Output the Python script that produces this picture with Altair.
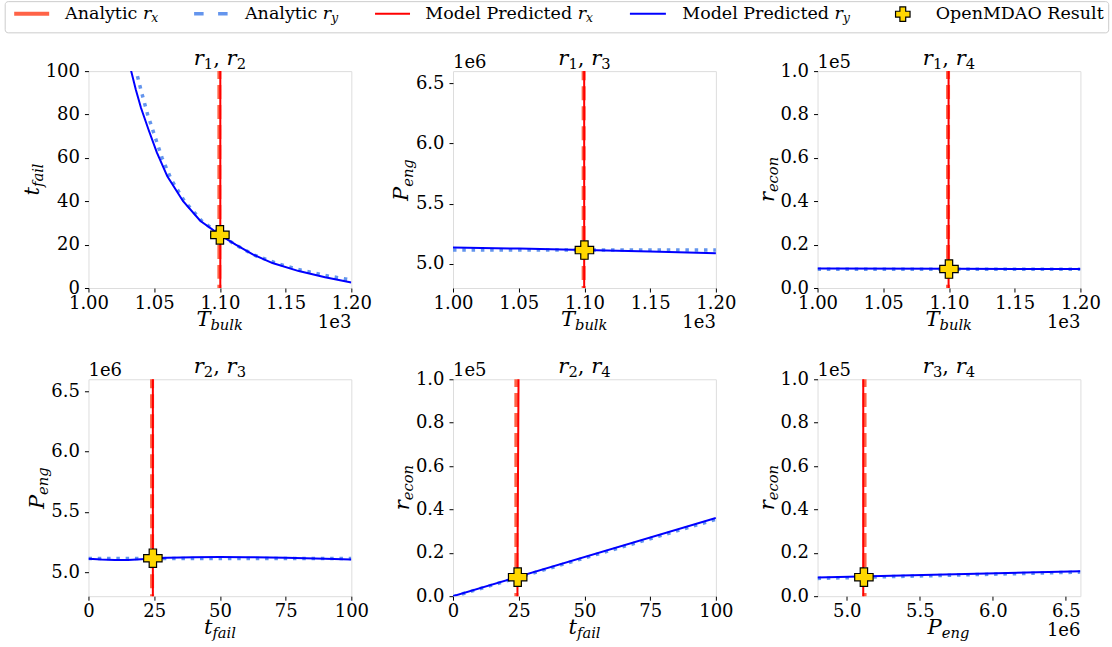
import altair as alt
import pandas as pd

FONT = "DejaVu Serif"
TICK_FS = 18
LEG_FS = 17.5
LABEL_FS = 21
TITLE_FS = 21
W, H = 263, 217

C_ANA_RX = "#FF6347"
C_MOD_RX = "#FF0000"
C_ANA_RY = "#6495ED"
C_MOD_RY = "#0000FF"
C_RES = "#FFD700"

# ---------------- data ----------------
res_T_bulk = 1100.0
res_t_fail = 24.5
res_P_eng = 5.115e6
res_r_econ = 8760.0

# r1, r2 : x = T_bulk, y = t_fail
p12_ana_rx_x = [1099.6, 1099.6]
p12_ana_rx_y = [-5, 105]
p12_mod_rx_x = [1100.3, 1100.3]
p12_mod_rx_y = [-5, 105]
p12_ana_ry_x = [1034.0, 1036.3, 1040.5, 1045, 1050.5, 1056, 1063, 1073, 1086, 1099.5, 1111, 1126, 1144, 1162, 1180, 1200]
p12_ana_ry_y = [106, 100, 90, 80, 70, 60, 50, 40, 31, 25, 20.2, 15.2, 11.2, 8.2, 5.8, 3.7]
p12_mod_ry_x = [1031.0, 1032.5, 1036, 1040, 1046, 1052, 1060, 1072, 1085, 1100, 1112, 1125, 1140, 1160, 1180, 1200]
p12_mod_ry_y = [106, 100, 91.5, 83, 72.5, 62.5, 51.5, 40, 31, 24.5, 20, 15.5, 11.5, 7.8, 5, 2.5]

# r1, r3 : x = T_bulk, y = P_eng
p13_ana_rx_x = [1099.4, 1099.4]
p13_ana_rx_y = [4.7e6, 6.7e6]
p13_mod_rx_x = [1099.8, 1099.8]
p13_mod_rx_y = [4.7e6, 6.7e6]
p13_ana_ry_x = [1000, 1100, 1200]
p13_ana_ry_y = [5.115e6, 5.115e6, 5.115e6]
p13_mod_ry_x = [1000, 1050, 1100, 1150, 1200]
p13_mod_ry_y = [5.136e6, 5.127e6, 5.116e6, 5.103e6, 5.088e6]

# r1, r4 : x = T_bulk, y = r_econ
p14_ana_rx_x = [1099.3, 1099.3]
p14_ana_rx_y = [-5000, 105000]
p14_mod_rx_x = [1099.7, 1099.7]
p14_mod_rx_y = [-5000, 105000]
p14_ana_ry_x = [1000, 1100, 1200]
p14_ana_ry_y = [8650, 8650, 8650]
p14_mod_ry_x = [1000, 1100, 1200]
p14_mod_ry_y = [9050, 8900, 8750]

# r2, r3 : x = t_fail, y = P_eng
p23_ana_rx_x = [24.2, 24.2]
p23_ana_rx_y = [4.7e6, 6.7e6]
p23_mod_rx_x = [24.5, 24.5]
p23_mod_rx_y = [4.7e6, 6.7e6]
p23_ana_ry_x = [0, 50, 100]
p23_ana_ry_y = [5.113e6, 5.113e6, 5.113e6]
p23_mod_ry_x = [0, 5, 10, 15, 20, 25, 30, 40, 50, 60, 75, 90, 100]
p23_mod_ry_y = [5.111e6, 5.104e6, 5.100e6, 5.101e6, 5.107e6, 5.113e6, 5.119e6, 5.124e6,
                5.125e6, 5.124e6, 5.119e6, 5.111e6, 5.104e6]

# r2, r4 : x = t_fail, y = r_econ
p24_ana_rx_x = [24.1, 24.1]
p24_ana_rx_y = [-5000, 105000]
p24_mod_rx_x = [24.5, 24.6, 24.75, 24.95]
p24_mod_rx_y = [-5000, 30000, 60000, 105000]
p24_ana_ry_x = [0, 100]
p24_ana_ry_y = [-200, 35400]
p24_mod_ry_x = [0, 100]
p24_mod_ry_y = [0, 36100]

# r3, r4 : x = P_eng, y = r_econ
p34_ana_rx_x = [5.122e6, 5.122e6]
p34_ana_rx_y = [-5000, 105000]
p34_mod_rx_x = [5.113e6, 5.113e6]
p34_mod_rx_y = [-5000, 105000]
p34_ana_ry_x = [4.8e6, 6.6e6]
p34_ana_ry_y = [8200, 11100]
p34_mod_ry_x = [4.8e6, 6.6e6]
p34_mod_ry_y = [8600, 11500]

# axis ticks
T_BULK_TICKS = [1000, 1050, 1100, 1150, 1200]
T_FAIL_Y_TICKS = [0, 20, 40, 60, 80, 100]
T_FAIL_X_TICKS = [0, 25, 50, 75, 100]
P_ENG_TICKS = [5.0e6, 5.5e6, 6.0e6, 6.5e6]
R_ECON_TICKS = [0, 20000, 40000, 60000, 80000, 100000]

LEGEND_MAIN = ["Analytic", "Analytic", "Model Predicted", "Model Predicted", "OpenMDAO Result"]
LEGEND_SUB = ["x", "y", "x", "y", ""]

# ---------------- helpers ----------------
CW = {"r": 0.48, "t": 0.40, "f": 0.35, "a": 0.60, "i": 0.32, "l": 0.32, "T": 0.64,
      "b": 0.64, "u": 0.64, "k": 0.60, "P": 0.62, "e": 0.59, "n": 0.64, "g": 0.64,
      "c": 0.56, "o": 0.60, "x": 0.56, "y": 0.56, ",": 0.32, " ": 0.32}
for d in "0123456789":
    CW[d] = 0.636
SUB = 0.7
DROP = 0.2


def wid(s, size):
    return sum(CW.get(ch, 0.6) for ch in s) * size


def txt(s, x, y, size, italic=False, align="left", angle=0, color="black"):
    props = dict(text=s, font=FONT, fontSize=size, align=align, baseline="alphabetic", color=color)
    if italic:
        props["fontStyle"] = "italic"
    if angle:
        props["angle"] = angle
    return alt.Chart(alt.Data(values=[{}])).mark_text(**props).encode(
        x=alt.value(x), y=alt.value(y))


def math_h(main, sub, cx, yb, size):
    wm = wid(main, size)
    ws = wid(sub, size * SUB)
    b = cx - (wm + ws) / 2 + wm
    return [txt(main, b, yb, size, True, "right"),
            txt(sub, b, yb + DROP * size, size * SUB, True, "left")]


def math_v(main, sub, xb, cy, size):
    wm = wid(main, size)
    ws = wid(sub, size * SUB)
    b = cy + (wm + ws) / 2 - wm
    return [txt(main, xb, b, size, True, "right", 270),
            txt(sub, xb + DROP * size, b, size * SUB, True, "left", 270)]


def title(a, b, cx, yb, size=TITLE_FS):
    runs = [("r", size, True, 0), (a, size * SUB, False, 0.2 * size), (",", size, False, 0),
            (" ", size, False, 0), ("r", size, True, 0), (b, size * SUB, False, 0.2 * size)]
    total = sum(wid(s, sz) for s, sz, _, _ in runs)
    x = cx - total / 2
    out = []
    for s, sz, it, dy in runs:
        if s.strip():
            out.append(txt(s, x, yb + dy, sz, it, "left"))
        x += wid(s, sz)
    return out


def axis(values, expr=None, pad=2):
    kw = dict(values=values, title=None, grid=False, domain=False, tickSize=4, tickWidth=1,
              tickColor="black", labelFont=FONT, labelFontSize=TICK_FS, labelColor="black",
              labelPadding=pad, labelFlush=False, labelOverlap=False, labelBound=False)
    if expr:
        kw["labelExpr"] = expr
    return alt.Axis(**kw)


def line(xs, ys, sx, sy, ax, ay, color, width, dash=None):
    df = pd.DataFrame({"x": xs, "y": ys, "o": list(range(len(xs)))})
    kw = dict(color=color, strokeWidth=width, clip=True, strokeCap="butt")
    if dash:
        kw["strokeDash"] = dash
    return alt.Chart(df).mark_line(**kw).encode(
        x=alt.X("x:Q", scale=sx, axis=ax),
        y=alt.Y("y:Q", scale=sy, axis=ay),
        order="o:Q")


def marker(x, y, sx, sy, ax, ay):
    df = pd.DataFrame({"x": [x], "y": [y]})
    return alt.Chart(df).mark_point(shape="cross", filled=True, fill=C_RES, stroke="black",
                                    strokeWidth=1.2, size=340, opacity=1).encode(
        x=alt.X("x:Q", scale=sx, axis=ax), y=alt.Y("y:Q", scale=sy, axis=ay))


def panel(d, sx, sy, ax, ay, res, decor):
    (arx, mrx, ana_x, ana_y, mod_x, mod_y) = d
    layers = [
        line(arx[0], arx[1], sx, sy, ax, ay, C_ANA_RX, 4, [14, 6]),
        line(ana_x, ana_y, sx, sy, ax, ay, C_ANA_RY, 3.5, [3.5, 5.8]),
        line(mrx[0], mrx[1], sx, sy, ax, ay, C_MOD_RX, 2),
        line(mod_x, mod_y, sx, sy, ax, ay, C_MOD_RY, 2),
        marker(res[0], res[1], sx, sy, ax, ay),
    ]
    return alt.layer(*(layers + decor)).properties(width=W, height=H)


# scales / axes
s_Tb = alt.Scale(domain=[1000, 1200], nice=False, zero=False)
s_tf = alt.Scale(domain=[0, 100], nice=False, zero=False)
s_Pe = alt.Scale(domain=[4.8e6, 6.6e6], nice=False, zero=False)
s_re = alt.Scale(domain=[0, 100000], nice=False, zero=False)

ax_Tb = axis(T_BULK_TICKS, "format(datum.value / 1000, '.2f')")
ax_tfx = axis(T_FAIL_X_TICKS)
ay_tf = axis(T_FAIL_Y_TICKS, pad=5)
ay_Pe = axis(P_ENG_TICKS, "format(datum.value / 1000000, '.1f')", pad=5)
ax_Pe = axis(P_ENG_TICKS, "format(datum.value / 1000000, '.1f')")
ay_re = axis(R_ECON_TICKS, "format(datum.value / 100000, '.1f')", pad=5)

XT_BASE = H + 38
OFF_BASE = H + 40
CX, CY = W / 2, H / 2


def xtitle(main, sub):
    return math_h(main, sub, CX, XT_BASE, LABEL_FS)


def ytitle(main, sub, xb):
    return math_v(main, sub, xb, CY, LABEL_FS)


# legend (drawn in first panel's coordinates)
OX, OY = 87.3, 70.0
legend = [alt.Chart(alt.Data(values=[{}])).mark_rect(
    fill="white", stroke="#cccccc", strokeWidth=1, cornerRadius=3).encode(
    x=alt.value(4 - OX), x2=alt.value(1108 - OX), y=alt.value(0.5 - OY), y2=alt.value(31.7 - OY))]
HANDLES = [(13, 48, C_ANA_RX, 4, None), (193, 227, C_ANA_RY, 3.5, [9.5, 14.5]),
           (374, 409, C_MOD_RX, 2, None), (629, 665, C_MOD_RY, 2, None)]
HY = 12.7
for x0, x1, col, sw, dash in HANDLES:
    kw = dict(color=col, strokeWidth=sw, strokeCap="butt")
    if dash:
        kw["strokeDash"] = dash
    legend.append(alt.Chart(alt.Data(values=[{}])).mark_rule(**kw).encode(
        x=alt.value(x0 - OX), x2=alt.value(x1 - OX), y=alt.value(HY - OY)))
legend.append(alt.Chart(alt.Data(values=[{}])).mark_point(
    shape="cross", filled=True, fill=C_RES, stroke="black", strokeWidth=1.2, size=210, opacity=1).encode(
    x=alt.value(902 - OX), y=alt.value(13 - OY)))
LEG_END = [157, 337, 592, 849]
LB = 17.5 - OY
for i in range(4):
    end = LEG_END[i] - OX
    ws = wid(LEGEND_SUB[i], LEG_FS * SUB)
    wr = wid("r", LEG_FS)
    r0 = end - ws - wr
    legend.append(txt(LEGEND_MAIN[i], r0 - wid(" ", LEG_FS), LB, LEG_FS, False, "right"))
    legend.append(txt("r", r0, LB, LEG_FS, True, "left"))
    legend.append(txt(LEGEND_SUB[i], r0 + wr, LB + DROP * LEG_FS, LEG_FS * SUB, True, "left"))
legend.append(txt(LEGEND_MAIN[4], 935 - OX, LB, LEG_FS, False, "left"))

p1 = panel(((p12_ana_rx_x, p12_ana_rx_y), (p12_mod_rx_x, p12_mod_rx_y),
            p12_ana_ry_x, p12_ana_ry_y, p12_mod_ry_x, p12_mod_ry_y),
           s_Tb, s_tf, ax_Tb, ay_tf, (res_T_bulk, res_t_fail),
           title("1", "2", CX, -6) + xtitle("T", "bulk") + ytitle("t", "fail", -49.3)
           + [txt("1e3", W, OFF_BASE, TICK_FS, False, "right")] + legend)

p2 = panel(((p13_ana_rx_x, p13_ana_rx_y), (p13_mod_rx_x, p13_mod_rx_y),
            p13_ana_ry_x, p13_ana_ry_y, p13_mod_ry_x, p13_mod_ry_y),
           s_Tb, s_Pe, ax_Tb, ay_Pe, (res_T_bulk, res_P_eng),
           title("1", "3", CX, -6) + xtitle("T", "bulk") + ytitle("P", "eng", -44.7)
           + [txt("1e3", W, OFF_BASE, TICK_FS, False, "right"), txt("1e6", 0, -3.5, TICK_FS)])

p3 = panel(((p14_ana_rx_x, p14_ana_rx_y), (p14_mod_rx_x, p14_mod_rx_y),
            p14_ana_ry_x, p14_ana_ry_y, p14_mod_ry_x, p14_mod_ry_y),
           s_Tb, s_re, ax_Tb, ay_re, (res_T_bulk, res_r_econ),
           title("1", "4", CX, -6) + xtitle("T", "bulk") + ytitle("r", "econ", -44)
           + [txt("1e3", W, OFF_BASE, TICK_FS, False, "right"), txt("1e5", 0, -3.5, TICK_FS)])

p4 = panel(((p23_ana_rx_x, p23_ana_rx_y), (p23_mod_rx_x, p23_mod_rx_y),
            p23_ana_ry_x, p23_ana_ry_y, p23_mod_ry_x, p23_mod_ry_y),
           s_tf, s_Pe, ax_tfx, ay_Pe, (res_t_fail, res_P_eng),
           title("2", "3", CX, -6) + xtitle("t", "fail") + ytitle("P", "eng", -44.7)
           + [txt("1e6", 0, -3.5, TICK_FS)])

p5 = panel(((p24_ana_rx_x, p24_ana_rx_y), (p24_mod_rx_x, p24_mod_rx_y),
            p24_ana_ry_x, p24_ana_ry_y, p24_mod_ry_x, p24_mod_ry_y),
           s_tf, s_re, ax_tfx, ay_re, (24.6, res_r_econ),
           title("2", "4", CX, -6) + xtitle("t", "fail") + ytitle("r", "econ", -44)
           + [txt("1e5", 0, -3.5, TICK_FS)])

p6 = panel(((p34_ana_rx_x, p34_ana_rx_y), (p34_mod_rx_x, p34_mod_rx_y),
            p34_ana_ry_x, p34_ana_ry_y, p34_mod_ry_x, p34_mod_ry_y),
           s_Pe, s_re, ax_Pe, ay_re, (5.1175e6, res_r_econ),
           title("3", "4", CX, -6) + xtitle("P", "eng") + ytitle("r", "econ", -44)
           + [txt("1e6", W, OFF_BASE, TICK_FS, False, "right"), txt("1e5", 0, -3.5, TICK_FS)])

chart = alt.concat(
    p1, p2, p3, p4, p5, p6, columns=3,
    spacing={"row": 91.3, "column": 101.7}, bounds="flush",
    padding={"left": 3.5, "top": 0, "right": 2, "bottom": 2},
).configure_view(stroke="black", strokeWidth=1).configure(font=FONT)

chart.save("out.html", embed_options={"renderer": "svg", "actions": False})
